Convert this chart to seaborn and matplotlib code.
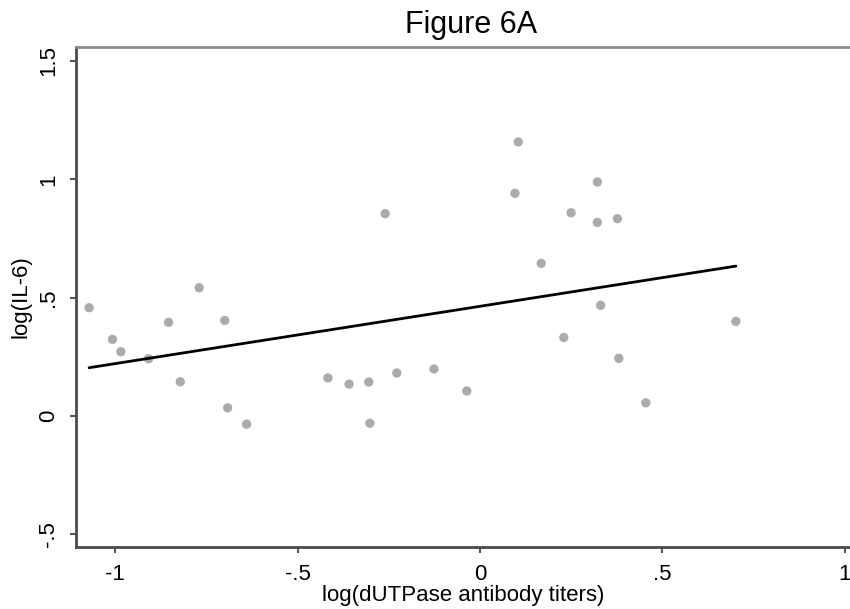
import numpy as np
import pandas as pd
import seaborn as sns
import matplotlib.pyplot as plt

# values
titers = [-1.072, -1.008, -0.985, -0.909, -0.854, -0.822, -0.770, -0.700, -0.692, -0.640,
          -0.417, -0.359, -0.305, -0.302, -0.260, -0.228, -0.126, -0.036,
          0.105, 0.096, 0.322, 0.250, 0.322, 0.377, 0.168, 0.331, 0.230, 0.381, 0.455, 0.702]
il6 = [0.458, 0.324, 0.272, 0.242, 0.396, 0.145, 0.542, 0.404, 0.035, -0.034,
       0.161, 0.135, 0.144, -0.030, 0.855, 0.182, 0.199, 0.106,
       1.158, 0.941, 0.989, 0.859, 0.818, 0.834, 0.645, 0.468, 0.332, 0.244, 0.056, 0.400]

xticks = [-1, -0.5, 0, 0.5, 1]
xticklabels = ['-1', '-.5', '0', '.5', '1']
yticks = [-0.5, 0, 0.5, 1, 1.5]
yticklabels = ['-.5', '0', '.5', '1', '1.5']

df = pd.DataFrame({'titers': titers, 'il6': il6})

sns.set_style('white')
plt.rcParams['font.family'] = ['Liberation Sans', 'DejaVu Sans']
plt.rcParams['text.color'] = 'black'
plt.rcParams['axes.labelcolor'] = 'black'
plt.rcParams['xtick.labelcolor'] = 'black'
plt.rcParams['ytick.labelcolor'] = 'black'

fig = plt.figure(figsize=(8.5, 6.09), dpi=100)
ax = fig.add_axes([0.0894, 0.1018, 0.9106, 0.821])

# scatter plus least squares line
sns.regplot(data=df, x='titers', y='il6', ax=ax, ci=None,
            scatter_kws={'s': 45, 'color': '#ababab', 'edgecolor': 'none', 'alpha': 1},
            line_kws={'color': 'black', 'linewidth': 2})

ax.set_xlim(-1.108, 1.015)
ax.set_ylim(-0.553, 1.559)
ax.set_xticks(xticks)
ax.set_xticklabels(xticklabels, fontsize=16)
ax.set_yticks(yticks)
ax.set_yticklabels(yticklabels, fontsize=16, rotation=90, va='center')

ax.tick_params(axis='both', direction='out', length=4, width=1.5, color='#555555',
               bottom=True, left=True)
ax.tick_params(axis='x', pad=8)
ax.tick_params(axis='y', pad=8)

for side in ['left', 'bottom']:
    ax.spines[side].set_color('#4a4a4a')
    ax.spines[side].set_linewidth(2)
ax.spines['top'].set_color('#8a8a8a')
ax.spines['top'].set_linewidth(2)
ax.spines['right'].set_visible(False)

ax.set_xlabel('log(dUTPase antibody titers)', fontsize=16, labelpad=0)
ax.set_ylabel('log(IL-6)', fontsize=16, labelpad=5)
ax.set_title('Figure 6A', fontsize=22, pad=10, x=0.51)

fig.savefig('out.png', dpi=100)
